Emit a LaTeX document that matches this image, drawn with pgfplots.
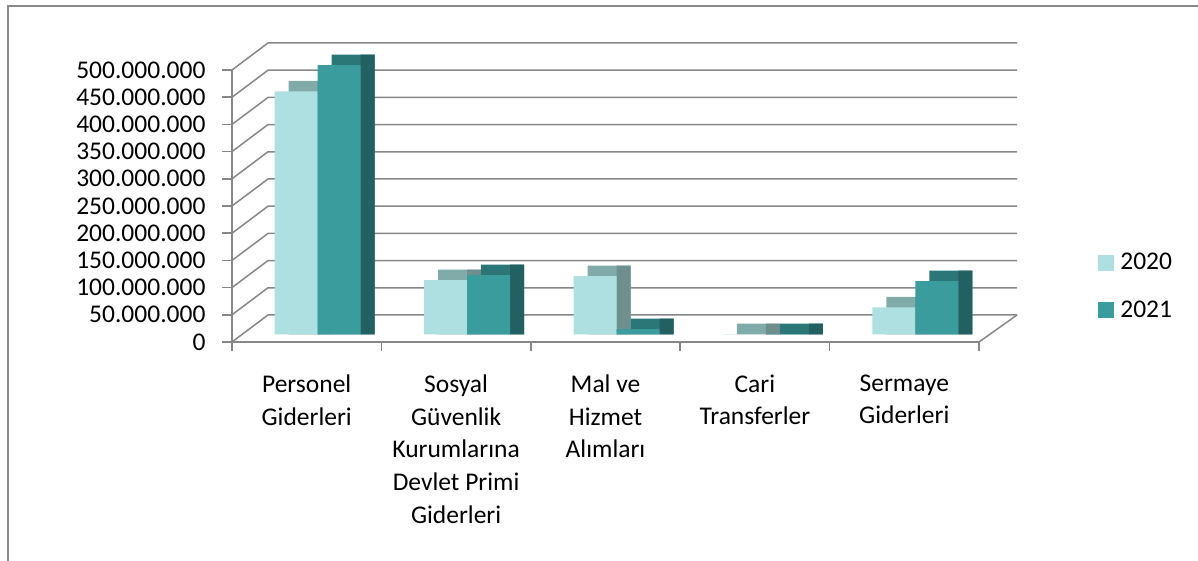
\documentclass[border=0pt]{standalone}
\usepackage{pgfplots}
\usepackage{pgfplotstable}
\pgfplotsset{compat=1.18}
\usepackage{fontspec}
\setmainfont{Carlito}
\definecolor{gridc}{HTML}{878787}
\definecolor{framec}{HTML}{8A8A8A}
\definecolor{cA}{HTML}{AEE0E1}
\definecolor{cAtop}{HTML}{80ABA9}
\definecolor{cAside}{HTML}{6E8F8E}
\definecolor{cB}{HTML}{3A9C9D}
\definecolor{cBtop}{HTML}{2B7778}
\definecolor{cBside}{HTML}{236062}
\pgfplotstableread{
x y2020 y2021
0 447000000 495000000
1 100000000 109000000
2 107500000 9800000
3 500000 500000
4 50000000 98000000
}\datatable
% depth of the 3D bars, as a value on the y axis (10.5pt)
\def\depthval{19300000}
\begin{document}
\begin{tikzpicture}[x=1pt,y=1pt]
\path[use as bounding box] (0,0) rectangle (1198,561);
\draw[framec, line width=2pt] (8,-5) -- (8,555) -- (1205,555);
\begin{axis}[
  at={(232pt,219pt)}, anchor=south west,
  scale only axis, width=747pt, height=272pt,
  xmin=-0.5, xmax=4.5, ymin=0, ymax=500000000,
  clip=false,
  axis x line*=bottom, axis y line*=left,
  axis line style={gridc, line width=1.5pt, -},
  xtick={0,1,2,3,4},
  xticklabels={{Personel\\Giderleri},{Sosyal\\Güvenlik\\Kurumlarına\\Devlet Primi\\Giderleri},{Mal ve\\Hizmet\\Alımları},{Cari\\Transferler},{Sermaye\\Giderleri}},
  major x tick style={draw=none},
  minor xtick={-0.5,0.5,1.5,2.5,3.5,4.5},
  minor tick length=9pt,
  major tick length=10pt,
  tick align=outside,
  tick style={gridc, line width=1.5pt},
  ytick={0,50000000,100000000,150000000,200000000,250000000,300000000,350000000,400000000,450000000,500000000},
  scaled y ticks=false,
  tick label style={font=\fontsize{25.5}{32.8}\selectfont},
  xticklabel style={align=center, yshift=-19pt},
  yticklabel style={xshift=-13pt, /pgf/number format/.cd, fixed, precision=0, 1000 sep={.}, assume math mode=true},
  legend style={at={(1.159,0.206)}, anchor=west, draw=none, fill=none, inner sep=0pt,
    font=\fontsize{25.5}{30}\selectfont, row sep=25pt, legend cell align=left,
    /tikz/every odd column/.append style={column sep=5pt}},
]
\pgfplotsinvokeforeach{0,50000000,100000000,150000000,200000000,250000000,300000000,350000000,400000000,450000000,500000000}{
  \draw[gridc, line width=1.5pt] (axis cs:-0.5,#1) -- ([xshift=36pt,yshift=27pt]axis cs:-0.5,#1) -- ([xshift=38pt,yshift=27pt]axis cs:4.5,#1);
}
\draw[gridc, line width=1.5pt] ([xshift=38pt,yshift=27pt]axis cs:4.5,0) -- (axis cs:4.5,0);
% 2020 series: top face, side face, front face
\addplot[ybar, bar width=43pt, bar shift=-21.5pt, fill=cAtop, draw=none, xshift=25pt, yshift=7.5pt, forget plot] table[x=x,y expr=\thisrow{y2020}+\depthval] {\datatable};
\addplot[ybar, bar width=14pt, bar shift=7pt, fill=cAside, draw=none, xshift=11pt, yshift=7.5pt, forget plot] table[x=x,y expr=\thisrow{y2020}+\depthval] {\datatable};
\addplot[ybar, bar width=43pt, bar shift=-21.5pt, fill=cA, draw=none, xshift=11pt, yshift=7.5pt, forget plot] table[x=x,y=y2020] {\datatable};
% 2021 series
\addplot[ybar, bar width=43pt, bar shift=21.5pt, fill=cBtop, draw=none, xshift=25pt, yshift=7.5pt, forget plot] table[x=x,y expr=\thisrow{y2021}+\depthval] {\datatable};
\addplot[ybar, bar width=14pt, bar shift=50pt, fill=cBside, draw=none, xshift=11pt, yshift=7.5pt, forget plot] table[x=x,y expr=\thisrow{y2021}+\depthval] {\datatable};
\addplot[ybar, bar width=43pt, bar shift=21.5pt, fill=cB, draw=none, xshift=11pt, yshift=7.5pt, forget plot] table[x=x,y=y2021] {\datatable};
\addlegendimage{legend image code/.code={\fill[cA] (0pt,-7.5pt) rectangle (15pt,7.5pt);}}
\addlegendentry{2020}
\addlegendimage{legend image code/.code={\fill[cB] (0pt,-7.5pt) rectangle (15pt,7.5pt);}}
\addlegendentry{2021}
\end{axis}
\end{tikzpicture}
\end{document}
